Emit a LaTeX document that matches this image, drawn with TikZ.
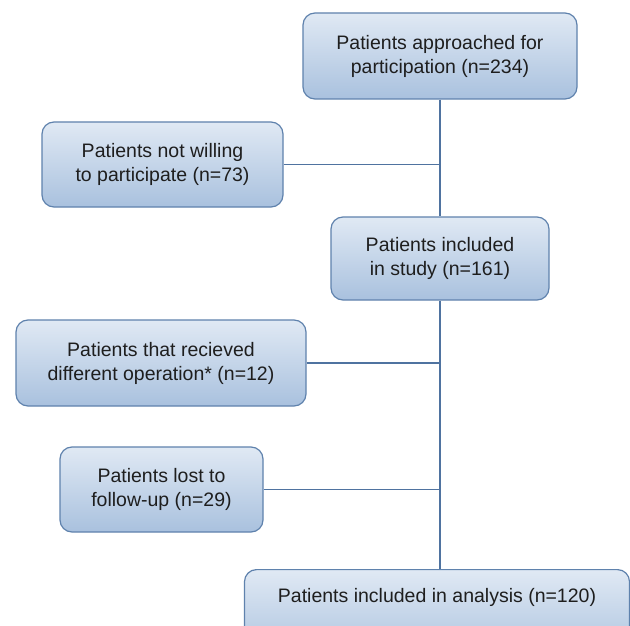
\documentclass[tikz,border=0pt]{standalone}
\usepackage{fontspec}
\setmainfont{Liberation Sans}
\definecolor{boxtop}{HTML}{E0E9F4}
\definecolor{boxbot}{HTML}{A9C1DE}
\definecolor{boxline}{HTML}{5F82AD}
\definecolor{conn}{HTML}{4F73A0}
\definecolor{txt}{HTML}{1E1E1E}
\begin{document}
\begin{tikzpicture}[x=1pt,y=-1pt,
  flowbox/.style={draw=boxline, line width=1.2pt, rounded corners=12pt,
    top color=boxtop, bottom color=boxbot, align=center, text=txt,
    font=\fontsize{19.5}{24}\selectfont, inner sep=0pt},
  link/.style={draw=conn, line width=1.3pt}]
\clip (0,0) rectangle (630,626);
\fill[white] (0,0) rectangle (630,626);
\node[flowbox, minimum width=274pt, minimum height=86pt] (b1) at (440,56) {Patients approached for\\participation (n=234)};
\node[flowbox, minimum width=241pt, minimum height=85pt] (b2) at (162.5,164.5) {Patients not willing\\to participate (n=73)};
\node[flowbox, minimum width=218pt, minimum height=83pt] (b3) at (440,258.5) {Patients included\\in study (n=161)};
\node[flowbox, minimum width=290pt, minimum height=86pt] (b4) at (161,363) {Patients that recieved\\different operation* (n=12)};
\node[flowbox, minimum width=203pt, minimum height=85pt] (b5) at (161.5,489.5) {Patients lost to\\follow-up (n=29)};
\node[flowbox, anchor=north, minimum width=385pt, inner ysep=19pt, text height=14pt, text depth=40pt] (b6) at (437,569) {Patients included in analysis (n=120)};
\draw[link] (b1.south) -- (b3.north);
\draw[link] (b3.south) -- (b3.south |- b6.north);
\draw[link] (b2.east) -- (b2.east -| b1.south);
\draw[link] (b4.east) -- (b4.east -| b3.south);
\draw[link] (b5.east) -- (b5.east -| b3.south);
\end{tikzpicture}
\end{document}
